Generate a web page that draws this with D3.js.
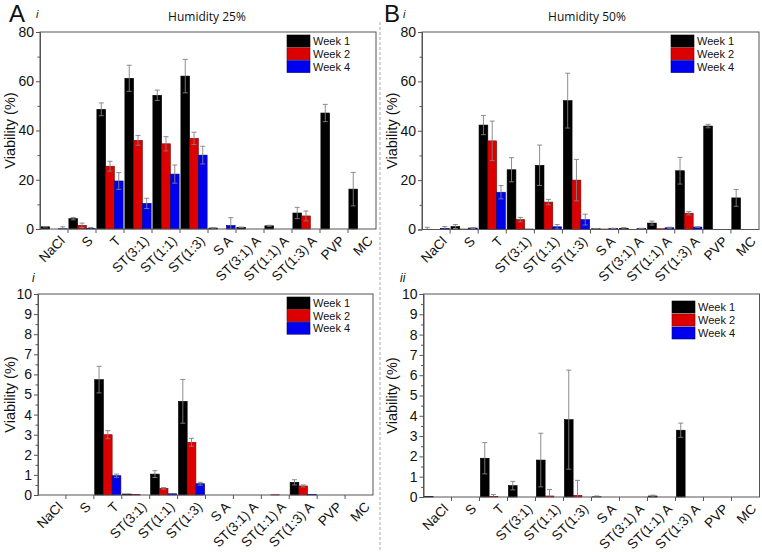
<!DOCTYPE html>
<html><head><meta charset="utf-8">
<script src="https://cdn.jsdelivr.net/npm/d3@7"></script>
<style>
html,body{margin:0;padding:0;background:#fff;}
svg{display:block;}
</style></head>
<body>
<svg id="chart" width="762" height="552" font-family="'Liberation Sans', Arial, sans-serif"></svg>
<script>
// ---------- DATA ----------
const categories = ["NaCl","S","T","ST(3:1)","ST(1:1)","ST(1:3)","S A","ST(3:1) A","ST(1:1) A","ST(1:3) A","PVP","MC"];
const seriesNames = ["Week 1","Week 2","Week 4"];
const seriesColors = ["#000000","#dd0000","#0000f0"];
const seriesStroke = ["#000000","#7a0000","#00007a"];

// Panel A i (Humidity 25%), 0-80 scale
const a1_w1 = [0.9, 4.2, 48.6, 61.2, 54.3, 62.1, 0.4, 0.7, 1.3, 6.5, 47.1, 16.2];
const a1_w1e = [0.1, 0.5, 2.6, 5.3, 2.1, 6.8, 0.1, 0.1, 0.2, 2.3, 3.5, 6.8];
const a1_w2 = [0, 1.5, 25.5, 36.0, 34.6, 36.8, 0, 0, 0, 5.3, 0, 0];
const a1_w2e = [0, 0.9, 2.0, 2.0, 2.9, 2.5, 0, 0, 0, 2.0, 0, 0];
const a1_w4 = [0.1, 0.3, 19.5, 10.4, 22.3, 30.0, 1.4, 0, 0, 0, 0, 0];
const a1_w4e = [0.8, 0.3, 3.4, 2.1, 3.7, 3.6, 3.2, 0, 0, 0, 0, 0];

// Panel B i (Humidity 50%), 0-80 scale
const b1_w1 = [0.1, 1.2, 42.3, 24.2, 26.0, 52.2, 0.3, 0.5, 2.6, 23.8, 41.9, 12.8];
const b1_w1e = [0.8, 0.8, 3.9, 4.9, 8.2, 11.1, 0.1, 0.3, 0.8, 5.4, 0.7, 3.4];
const b1_w2 = [0, 0.2, 35.9, 4.0, 11.1, 20.0, 0.2, 0, 0.3, 6.6, 0, 0];
const b1_w2e = [0, 0, 8.0, 0.9, 1.1, 8.4, 0, 0, 0, 0.7, 0, 0];
const b1_w4 = [0.5, 0.6, 15.1, 0.2, 1.1, 4.0, 0.4, 0.4, 0.7, 1.0, 0, 0];
const b1_w4e = [0.7, 0.2, 2.7, 0, 0.9, 2.2, 0.1, 0.1, 0.2, 0.1, 0, 0];

// Panel A (bottom i), 0-10 scale
const a2_w1 = [0, 0, 5.74, 0.05, 1.04, 4.66, 0, 0, 0, 0.63, 0, 0];
const a2_w1e = [0, 0, 0.66, 0, 0.17, 1.09, 0, 0, 0, 0.13, 0, 0];
const a2_w2 = [0, 0, 3.0, 0.02, 0.33, 2.62, 0, 0, 0.01, 0.45, 0, 0];
const a2_w2e = [0, 0, 0.2, 0, 0.04, 0.2, 0, 0, 0, 0.05, 0, 0];
const a2_w4 = [0, 0, 0.96, 0, 0.06, 0.56, 0, 0, 0, 0.03, 0, 0];
const a2_w4e = [0, 0, 0.08, 0, 0, 0.07, 0, 0, 0, 0, 0, 0];

// Panel B (bottom ii), 0-10 scale
const b2_w1 = [0.02, 0, 1.91, 0.56, 1.82, 3.81, 0.01, 0, 0.05, 3.29, 0, 0];
const b2_w1e = [0, 0, 0.77, 0.21, 1.32, 2.44, 0.04, 0, 0.04, 0.35, 0, 0];
const b2_w2 = [0, 0, 0.02, 0, 0.05, 0.08, 0, 0, 0, 0, 0, 0];
const b2_w2e = [0, 0, 0.1, 0, 0.32, 0.74, 0, 0, 0, 0, 0, 0];
const b2_w4 = [0, 0, 0, 0, 0, 0, 0, 0, 0, 0, 0, 0];
const b2_w4e = [0, 0, 0, 0, 0, 0, 0, 0, 0, 0, 0, 0];

const topTicks = [0, 20, 40, 60, 80];
const topMinor = [10, 30, 50, 70];
const botTicks = [0,1,2,3,4,5,6,7,8,9,10];
const botMinor = [0.5,1.5,2.5,3.5,4.5,5.5,6.5,7.5,8.5,9.5];

// ---------- DRAW ----------
const FONT = "'Liberation Sans', Arial, sans-serif";
const svg = d3.select("#chart");

function panel(cfg) {
  const g = svg.append("g");
  const x = d3.scaleBand().domain(categories).range([cfg.x0, cfg.x1]).paddingInner(0).paddingOuter(0);
  const y = d3.scaleLinear().domain(cfg.domain).range([cfg.y1, cfg.y0]);
  const inner = d3.scaleBand().domain(seriesNames).range([0, x.bandwidth()]).paddingInner(0).paddingOuter(0.1);

  const vals = [cfg.w1, cfg.w2, cfg.w4];
  const errs = [cfg.e1, cfg.e2, cfg.e4];

  seriesNames.forEach((s, si) => {
    g.append("g").selectAll("rect").data(categories).join("rect")
      .attr("x", c => x(c) + inner(s))
      .attr("width", inner.bandwidth())
      .attr("y", (c, i) => y(vals[si][i]))
      .attr("height", (c, i) => y(0) - y(vals[si][i]))
      .attr("fill", seriesColors[si])
      .attr("stroke", seriesStroke[si])
      .attr("stroke-width", (c, i) => vals[si][i] > 0 ? 0.6 : 0);
  });
  seriesNames.forEach((s, si) => {
    const eg = g.append("g").attr("stroke", "#808080").attr("stroke-width", 0.9).attr("fill", "none");
    categories.forEach((c, i) => {
      const e = errs[si][i];
      if (!(e > 0)) return;
      const cx = x(c) + inner(s) + inner.bandwidth() / 2;
      const v = vals[si][i];
      const top = y(v + e), bot = y(Math.max(0, v - e));
      eg.append("line").attr("x1", cx).attr("x2", cx).attr("y1", top).attr("y2", bot);
      eg.append("line").attr("x1", cx - 2.5).attr("x2", cx + 2.5).attr("y1", top).attr("y2", top);
      if (v - e > 0) eg.append("line").attr("x1", cx - 2.5).attr("x2", cx + 2.5).attr("y1", bot).attr("y2", bot);
    });
  });

  g.append("rect").attr("x", cfg.x0).attr("y", cfg.y0)
    .attr("width", cfg.x1 - cfg.x0).attr("height", cfg.y1 - cfg.y0)
    .attr("fill", "none").attr("stroke", "#555").attr("stroke-width", 1);

  const ya = d3.axisLeft(y).tickValues(cfg.ticks).tickSize(4).tickPadding(2).tickFormat(d3.format("d"));
  const yg = g.append("g").attr("transform", `translate(${cfg.x0},0)`).call(ya);
  yg.attr("font-family", FONT);
  yg.select(".domain").attr("stroke", "#555");
  yg.selectAll(".tick line").attr("stroke", "#555");
  yg.selectAll(".tick text").attr("font-size", 14).attr("fill", "#111").attr("font-family", FONT);
  const ym = d3.axisLeft(y).tickValues(cfg.minor).tickSize(2.5).tickFormat("");
  const ymg = g.append("g").attr("transform", `translate(${cfg.x0},0)`).call(ym);
  ymg.select(".domain").remove();
  ymg.selectAll(".tick line").attr("stroke", "#555");

  const bounds = categories.slice(1).map(c => x(c));
  const xg = g.append("g");
  xg.selectAll("line").data(bounds).join("line")
    .attr("x1", d => d).attr("x2", d => d)
    .attr("y1", cfg.y1).attr("y2", cfg.y1 + 4)
    .attr("stroke", "#555");
  xg.selectAll("text").data(categories).join("text")
    .attr("transform", c => `translate(${x(c) + x.bandwidth() / 2 + 5},${cfg.y1 + 6}) rotate(-45)`)
    .attr("text-anchor", "end")
    .attr("dy", "0.7em")
    .attr("font-size", 13.5)
    .attr("font-family", FONT)
    .attr("fill", "#111")
    .text(c => c);

  svg.append("text")
    .attr("transform", `translate(${cfg.labelX},${(cfg.y0 + cfg.y1) / 2}) rotate(-90)`)
    .attr("text-anchor", "middle")
    .attr("font-size", 14.5)
    .attr("font-family", FONT)
    .attr("fill", "#111")
    .text("Viability (%)");

  const lg = svg.append("g").attr("transform", `translate(${cfg.legX},${cfg.legY})`);
  seriesNames.forEach((s, si) => {
    lg.append("rect").attr("x", 0).attr("y", si * cfg.legStep).attr("width", 23).attr("height", 12)
      .attr("fill", seriesColors[si]).attr("stroke", seriesStroke[si]).attr("stroke-width", 0.6);
    lg.append("text").attr("x", 26).attr("y", si * cfg.legStep + 10)
      .attr("font-size", 11).attr("font-family", FONT).attr("fill", "#111").text(s);
  });
}

panel({x0: 40, x1: 376, y0: 32, y1: 229, domain: [0, 80], ticks: topTicks, minor: topMinor,
  w1: a1_w1, e1: a1_w1e, w2: a1_w2, e2: a1_w2e, w4: a1_w4, e4: a1_w4e,
  labelX: 15, legX: 287, legY: 35, legStep: 12.8});
panel({x0: 422, x1: 759, y0: 32, y1: 229.5, domain: [0, 80], ticks: topTicks, minor: topMinor,
  w1: b1_w1, e1: b1_w1e, w2: b1_w2, e2: b1_w2e, w4: b1_w4, e4: b1_w4e,
  labelX: 397, legX: 671, legY: 35, legStep: 12.8});
panel({x0: 38, x1: 373, y0: 294, y1: 495, domain: [0, 10], ticks: botTicks, minor: botMinor,
  w1: a2_w1, e1: a2_w1e, w2: a2_w2, e2: a2_w2e, w4: a2_w4, e4: a2_w4e,
  labelX: 15, legX: 287, legY: 297, legStep: 12.6});
panel({x0: 423.5, x1: 759.5, y0: 294, y1: 497, domain: [0, 10], ticks: botTicks, minor: botMinor,
  w1: b2_w1, e1: b2_w1e, w2: b2_w2, e2: b2_w2e, w4: b2_w4, e4: b2_w4e,
  labelX: 397, legX: 672, legY: 301, legStep: 13});

svg.append("line").attr("x1", 380).attr("x2", 380).attr("y1", 22).attr("y2", 552)
  .attr("stroke", "#aaa").attr("stroke-width", 1).attr("stroke-dasharray", "3,2");

svg.append("text").attr("x", 9).attr("y", 22).attr("font-size", 24).attr("font-family", FONT).attr("fill", "#111").text("A");
svg.append("text").attr("x", 36).attr("y", 18).attr("font-size", 11).attr("font-style", "italic").attr("font-family", FONT).attr("fill", "#111").text("i");
svg.append("text").attr("x", 384).attr("y", 22).attr("font-size", 24).attr("font-family", FONT).attr("fill", "#111").text("B");
svg.append("text").attr("x", 403).attr("y", 18).attr("font-size", 11).attr("font-style", "italic").attr("font-family", FONT).attr("fill", "#111").text("i");
svg.append("text").attr("x", 207).attr("y", 21).attr("text-anchor", "middle").attr("font-size", 12)
  .attr("font-family", "'Open Sans', sans-serif").attr("fill", "#111").text("Humidity 25%");
svg.append("text").attr("x", 587).attr("y", 21).attr("text-anchor", "middle").attr("font-size", 12)
  .attr("font-family", "'Open Sans', sans-serif").attr("fill", "#111").text("Humidity 50%");
svg.append("text").attr("x", 32).attr("y", 282).attr("font-size", 12).attr("font-style", "italic").attr("font-family", FONT).attr("fill", "#111").text("i");
svg.append("text").attr("x", 400).attr("y", 282).attr("font-size", 12).attr("font-style", "italic").attr("font-family", FONT).attr("fill", "#111").text("ii");
</script>
</body></html>
